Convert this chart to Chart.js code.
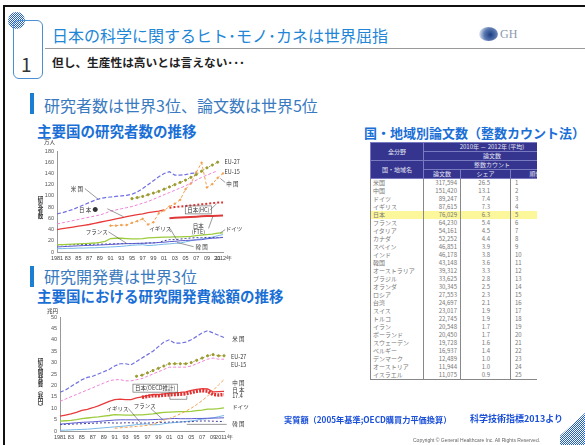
<!DOCTYPE html>
<html lang="ja">
<head>
<meta charset="utf-8">
<script src="https://cdn.jsdelivr.net/npm/chart.js@4.4.1/dist/chart.umd.min.js"></script>
<style>
  html, body { margin: 0; padding: 0; background: #fff; }
  body { width: 585px; height: 445px; position: relative; overflow: hidden;
         font-family: "Noto Sans CJK JP", "Noto Sans", sans-serif; }
  .abs { position: absolute; white-space: nowrap; line-height: 1; }
  .checker { background: repeating-conic-gradient(#1f5fc8 0 25%, #fff 0 50%) 0 0 / 2px 2px; }
  .blue-bold { color: #1a6fd6; font-weight: bold; }
  .vtitle { writing-mode: vertical-rl; font-size: 5.5px; font-weight: bold; color: #333; letter-spacing: 0.3px; }
  .unit { font-size: 5.5px; color: #333; }
  #tbl { position: absolute; left: 370px; top: 142px; width: 167px; height: 238px; overflow: hidden; }
  #tbl table { border-collapse: collapse; table-layout: fixed; width: 190px; font-size: 6px; line-height: 1; }
  #tbl th { background: #35358f; color: #e4e4f4; font-weight: normal; height: 8px; padding: 0;
            border: 1px solid #7a7ac0; text-align: center; }
  #tbl td { height: 8px; padding: 0 2px; color: #777; border-left: 1px solid #888; border-right: 1px solid #888; }
  #tbl td.num { text-align: right; padding-right: 3px; }
  #tbl tr.hl td { background: #fbf79a; }
  #tbl tbody tr:last-child td { border-bottom: 1px solid #888; }
</style>
</head>
<body>
<div class="abs" style="left:3px;top:5px;width:640px;height:500px;border-left:2px solid #111;border-top:2px solid #111;"></div>
<div class="abs checker" style="left:8px;top:12px;width:17px;height:17px;border-radius:50%;"></div>
<div class="abs" style="left:13px;top:20px;width:28px;height:57px;border:1px solid #4a90d0;border-radius:6px;"></div>
<div class="abs" style="left:21px;top:54px;font-size:19px;color:#333;">1</div>
<div class="abs" style="left:52px;top:27px;font-size:16px;color:#2286d6;">日本の科学に関するヒト･モノ･カネは世界屈指</div>
<div class="abs" style="left:45px;top:48px;width:560px;height:1px;background:#9a9a9a;"></div>
<div class="abs" style="left:52px;top:56px;font-size:11.7px;font-weight:bold;color:#222;">但し、生産性は高いとは言えない･･･</div>
<div class="abs" style="left:479px;top:27px;width:19px;height:14px;border-radius:50%;background:radial-gradient(circle at 60% 55%, #1c3c80 0, #5a78b0 45%, #d8e0ee 80%, #fff 100%);"></div>
<div class="abs" style="left:500px;top:28px;font-size:12px;color:#8a98b0;font-family:'Liberation Serif',serif;">GH</div>

<div class="abs" style="left:30px;top:93px;width:4px;height:21px;background:#1a7fd0;"></div>
<div class="abs" style="left:44px;top:97px;font-size:16px;color:#3a7ac0;">研究者数は世界3位、論文数は世界5位</div>
<div class="abs blue-bold" style="left:37px;top:124px;font-size:14.5px;">主要国の研究者数の推移</div>
<div class="abs blue-bold" style="left:364px;top:126px;font-size:13px;">国・地域別論文数（整数カウント法）</div>

<div class="abs" style="left:30px;top:266px;width:4px;height:21px;background:#1a7fd0;"></div>
<div class="abs" style="left:44px;top:268px;font-size:16px;color:#3a7ac0;">研究開発費は世界3位</div>
<div class="abs blue-bold" style="left:37px;top:289px;font-size:14.5px;">主要国における研究開発費総額の推移</div>

<canvas id="c1" class="abs" style="left:36px;top:138px;" width="240" height="128"></canvas>
<div class="abs unit" style="left:44px;top:140px;">万人</div>
<div class="abs vtitle" style="left:37px;top:196px;">研究者数</div>

<canvas id="c2" class="abs" style="left:36px;top:308px;" width="250" height="137"></canvas>
<div class="abs unit" style="left:47px;top:309px;">兆円</div>
<div class="abs vtitle" style="left:37px;top:358px;">研究開発費（兆円）</div>

<div id="tbl"></div>

<div class="abs" style="left:284px;top:415px;font-size:8.2px;font-weight:bold;color:#1a4fd8;">実質額（2005年基準;OECD購買力平価換算）</div>
<div class="abs" style="left:470px;top:414px;font-size:9px;font-weight:bold;color:#1a4fd8;">科学技術指標2013より</div>
<div class="abs" style="left:413px;top:438px;font-size:5px;color:#666;font-family:'Liberation Sans',sans-serif;">Copyright ©  General Healthcare Inc. All Rights Reserved.</div>
<div class="abs checker" style="left:560px;top:412px;width:26px;height:34px;clip-path:polygon(100% 0,100% 100%,0 100%,0 70%);"></div>

<script>
// ---- researchers (万人), 1981-2012 ----
const years1 = [1981, 1982, 1983, 1984, 1985, 1986, 1987, 1988, 1989, 1990, 1991, 1992, 1993, 1994, 1995, 1996,
                1997, 1998, 1999, 2000, 2001, 2002, 2003, 2004, 2005, 2006, 2007, 2008, 2009, 2010, 2011, 2012];
const yearTicks1 = ['1981', '', '83', '', '85', '', '87', '', '89', '', '91', '', '93', '', '95', '',
                    '97', '', '99', '', '01', '', '03', '', '05', '', '07', '', '09', '', '11', '2012年'];
const usRes    = [68, 70, 73, 76, 80, 84, 88, 92, 95, 97, 98, 99, 100, 101, 103, 107,
                  113, 120, 127, 134, 140, 143, 137, 137, 138, 140, 141, null, null, null, null, null];
const eu27Res  = [null, null, null, null, null, null, null, null, null, null, null, null, null, null, 95, 97,
                  99, 102, 105, 108, 112, 116, 120, 124, 128, 133, 138, 144, 150, 155, 160, null];
const eu15Res  = [50, 52, 54, 56, 58, 60, 62, 64, 66, 69, 73, 75, 77, 79, 81, 84,
                  87, 90, 94, 98, 102, 106, 110, 114, 118, 123, 128, 133, 137, 141, 145, null];
const chinaRes = [null, null, null, null, null, null, null, null, null, null, 47, 47, 48, 48, 52, 55,
                  59, 49, 53, 69, 74, 81, 86, 93, 112, 122, 142, 159, 115, 121, 132, 140];
const japanRes = [40, 41.5, 43, 44.5, 46, 47.5, 49, 51, 53, 55, 57, 59, 61, 63, 65, 66.5,
                  68, 70, 71.5, 73, 75, null, null, null, null, null, null, null, null, null, null, null];
const japanHC  = [null, null, null, null, null, null, null, null, null, null, null, null, null, null, null, null,
                  null, null, null, null, null, 79, 80, 81, 82, 83, 84, 85, 86, 87, 88, 88];
const japanFTE = [null, null, null, null, null, null, null, null, null, null, null, null, null, null, null, null,
                  null, null, null, null, null, 60, 61, 61.5, 62, 62.5, 63, 63.5, 64, 64, 64.5, 65];
const germanyRes = [13, 13, 13.5, 14, 14.5, 15, 15.5, 16, 17, 19, 24, 24.5, 24.5, 24, 23.5, 23.5,
                    24, 25, 25.5, 26, 26.5, 26.5, 27, 27, 27.5, 28, 29, 30, 31, 32, 33.5, 34];
const franceRes  = [9, 9.5, 10, 10.5, 11, 11.5, 11.8, 12, 12.5, 13, 13.5, 14, 14.5, 15, 15, 15.5,
                    15.5, 16, 16, 17, 17.5, 18.5, 19, 20, 20.5, 21, 21.5, 22, 23.5, 24.5, 25, 26];
const ukRes      = [13, 13, 13, 13, 13.5, 13.5, 13.5, 14, 14, 14, 14.5, 14.5, 15, 15, 15, 15,
                    15.5, 16, 16.5, 17, 20, 22, 22, 23, 24, 25, 25.5, 25.5, 26, 26, 26, 26];
const koreaRes   = [6, 6, 6.5, 6.5, 7, 7, 7.5, 7.5, 8, 8.5, 9, 9.5, 10, 11, 12, 12.5,
                    13, 11.5, 12, 13, 14, 14.5, 15.5, 16, 18, 20, 22, 23.5, 24.5, 26.5, 29, 31];

// ---- R&D expenditure (兆円), 1981-2011 ----
const years2 = [1981, 1982, 1983, 1984, 1985, 1986, 1987, 1988, 1989, 1990, 1991, 1992, 1993, 1994, 1995, 1996,
                1997, 1998, 1999, 2000, 2001, 2002, 2003, 2004, 2005, 2006, 2007, 2008, 2009, 2010, 2011];
const yearTicks2 = ['1981', '', '83', '', '85', '', '87', '', '89', '', '91', '', '93', '', '95', '',
                    '97', '', '99', '', '01', '', '03', '', '05', '', '07', '', '09', '', '2011年'];
const usRD    = [17, 18, 19.5, 21, 22.5, 23.5, 24, 25, 26, 27, 28.5, 29.5, 29.5, 29, 30.5, 32,
                 33.5, 35, 37, 39, 40, 38.5, 38.5, 39, 40, 41.5, 43, 44, 43, 42, 41];
const eu27RD  = [null, null, null, null, null, null, null, null, null, null, null, null, null, null, 24, 24.5,
                 25.5, 26.5, 27.5, 28.5, 29.5, 29.5, 29.5, 29.5, 30, 31, 32, 33, 33.5, 33, 33];
const eu15RD  = [13, 14, 15, 16, 17, 18, 19, 20, 21, 22, 22.5, 22.5, 22, 22, 22.5, 23,
                 24, 25, 26, 27, 28, 28, 28, 28, 28.5, 29.5, 30.5, 31.5, 32, 31.5, 31.5];
const japanRD = [6.5, 7, 7.5, 8.2, 9, 9.5, 10.2, 11, 12, 13, 13.8, 14, 13.8, 13.8, 14.5, 15,
                 15.5, 16, 16, 16.3, 16.6, 16.7, 16.9, 17.2, 17.8, 18.3, 18.6, 18.5, 17.2, 17.3, 17.4];
const japanOECD = [null, null, null, null, null, null, null, null, null, null, null, null, null, null, null, 14.8,
                   15.2, 15.5, 15.5, 15.7, 15.9, 16, 16.1, 16.3, 16.9, 17.4, 17.7, 17.5, 16, 15.8, 16];
const chinaRD = [null, null, null, null, null, null, null, null, null, null, 1.2, 1.4, 1.6, 1.8, 2, 2.2,
                 2.5, 2.9, 3.8, 4.8, 5.5, 6.4, 7.5, 8.7, 10, 11.6, 13.3, 15.3, 17.8, 20.2, 22.5];
const germanyRD = [4.3, 4.5, 4.7, 5, 5.4, 5.7, 6, 6.2, 6.5, 6.8, 7.2, 7.1, 7, 7, 7.1, 7.1,
                   7.3, 7.5, 7.9, 8.2, 8.3, 8.4, 8.5, 8.5, 8.6, 8.9, 9.2, 9.6, 9.6, 9.8, 10.1];
const franceRD  = [3, 3.2, 3.4, 3.6, 3.8, 3.9, 4, 4.2, 4.4, 4.6, 4.8, 4.9, 4.9, 4.9, 4.9, 4.9,
                   4.9, 5, 5.1, 5.2, 5.4, 5.5, 5.4, 5.4, 5.4, 5.5, 5.5, 5.6, 5.7, 5.7, 5.8];
const ukRD      = [2.8, 2.9, 3, 3.1, 3.2, 3.3, 3.4, 3.5, 3.6, 3.6, 3.5, 3.5, 3.6, 3.6, 3.5, 3.5,
                   3.5, 3.6, 3.8, 3.8, 3.9, 4, 4, 4, 4.1, 4.3, 4.4, 4.4, 4.3, 4.2, 4.2];
const koreaRD   = [0.3, 0.4, 0.5, 0.6, 0.7, 0.8, 1, 1.2, 1.4, 1.6, 1.8, 2, 2.2, 2.5, 2.8, 3,
                   3.1, 2.7, 2.8, 3.2, 3.5, 3.7, 3.9, 4.2, 4.4, 4.8, 5.2, 5.4, 5.7, 6.3, 6.8];

// ---- papers table (2010-2012 average) ----
const countries = ['米国', '中国', 'ドイツ', 'イギリス', '日本', 'フランス', 'イタリア', 'カナダ', 'スペイン', 'インド',
                   '韓国', 'オーストラリア', 'ブラジル', 'オランダ', 'ロシア', '台湾', 'スイス', 'トルコ', 'イラン',
                   'ポーランド', 'スウェーデン', 'ベルギー', 'デンマーク', 'オーストリア', 'イスラエル'];
const paperCounts = ['317,594', '151,420', '89,247', '87,615', '76,029', '64,230', '54,161', '52,252', '46,851', '46,178',
                     '43,148', '39,312', '33,625', '30,345', '27,553', '24,697', '23,017', '22,745', '20,548',
                     '20,450', '19,728', '16,937', '12,489', '11,944', '11,075'];
const paperShares = ['26.5', '13.1', '7.4', '7.3', '6.3', '5.4', '4.5', '4.4', '3.9', '3.8', '3.6', '3.3', '2.8',
                     '2.5', '2.3', '2.1', '1.9', '1.9', '1.7', '1.7', '1.6', '1.4', '1.0', '1.0', '0.9'];
const paperRanks = [1, 2, 3, 4, 5, 6, 7, 8, 9, 10, 11, 12, 13, 14, 15, 16, 17, 18, 19, 20, 21, 22, 23, 24, 25];

// build the table
let html = '<table><colgroup><col style="width:53px"><col style="width:37px"><col style="width:50px"><col style="width:50px"></colgroup>';
html += '<thead><tr><th rowspan="2">全分野</th><th colspan="3">2010年 － 2012年 (平均)</th></tr>';
html += '<tr><th colspan="3">論文数</th></tr>';
html += '<tr><th rowspan="2">国・地域名</th><th colspan="3">整数カウント</th></tr>';
html += '<tr><th>論文数</th><th>シェア</th><th>順位</th></tr></thead><tbody>';
countries.forEach((c, i) => {
    html += '<tr' + (c === '日本' ? ' class="hl"' : '') + '><td>' + c + '</td><td class="num">' + paperCounts[i] +
            '</td><td class="num" style="padding-right:20px">' + paperShares[i] + '</td><td style="padding-left:4px">' + paperRanks[i] + '</td></tr>';
});
html += '</tbody></table>';
document.getElementById('tbl').innerHTML = html;

// text labels with leader lines, placed in data coordinates
const lineLabels = {
    id: 'lineLabels',
    afterDatasetsDraw(chart, args, opts) {
        const { ctx, scales: { x, y } } = chart;
        const px = yr => x.getPixelForValue(yr - opts.startYear);
        ctx.save();
        ctx.font = '5.5px "Noto Sans CJK JP"';
        ctx.fillStyle = '#333';
        ctx.strokeStyle = '#555';
        ctx.lineWidth = 0.6;
        opts.items.forEach(it => {
            if (it.leader) {
                ctx.beginPath();
                it.leader.forEach(([a, b], k) => {
                    if (k) ctx.lineTo(px(a), y.getPixelForValue(b));
                    else ctx.moveTo(px(a), y.getPixelForValue(b));
                });
                ctx.stroke();
            }
            const lines = it.text.split('\n');
            ctx.textAlign = it.align || 'center';
            ctx.textBaseline = 'middle';
            const cx = px(it.x), cy = y.getPixelForValue(it.y);
            lines.forEach((t, k) => ctx.fillText(t, cx, cy + (k - (lines.length - 1) / 2) * 6));
            if (it.box) {
                const w = ctx.measureText(lines[0]).width + 4;
                ctx.strokeRect(cx - w / 2, cy - 4, w, 8);
            }
        });
        ctx.restore();
    }
};

function makeOptions(cfg) {
    return {
        responsive: false,
        animation: false,
        devicePixelRatio: 1,
        layout: { padding: { left: 0, top: cfg.top, right: cfg.right, bottom: 0 } },
        elements: { line: { tension: 0, borderWidth: 1 }, point: { radius: 0 } },
        plugins: { legend: { display: false }, tooltip: { enabled: false }, lineLabels: cfg.labels },
        scales: {
            x: {
                grid: { display: false, drawTicks: false },
                border: { color: '#999' },
                ticks: { autoSkip: false, maxRotation: 0, font: { size: 5.5 }, color: '#444', padding: 3,
                         callback: (v, i) => cfg.ticks[i] },
                afterFit: s => { s.height = cfg.xh; }
            },
            y: {
                min: 0, max: cfg.max,
                grid: { display: false, drawTicks: false },
                border: { color: '#999' },
                ticks: { stepSize: cfg.step, font: { size: 5.5 }, color: '#555', padding: 3 },
                afterFit: s => { s.width = cfg.yw; }
            }
        }
    };
}

const ds = (data, color, extra) => Object.assign({ data, borderColor: color, backgroundColor: color }, extra);

new Chart(document.getElementById('c1'), {
    type: 'line',
    data: {
        labels: years1,
        datasets: [
            ds(usRes, '#7070e0', { borderDash: [4, 2], borderWidth: 1.2 }),
            ds(eu27Res, '#9a9a30', { borderDash: [1.5, 2], pointRadius: 1.1 }),
            ds(eu15Res, '#f080d8', { borderDash: [3, 2] }),
            ds(chinaRes, '#f0a050', { borderDash: [3, 2], pointRadius: 0.8 }),
            ds(japanRes, '#e83a3a', { borderWidth: 1.3 }),
            ds(japanHC, '#e03030', { borderDash: [2, 2], borderWidth: 2 }),
            ds(japanFTE, '#e03838', { borderWidth: 2 }),
            ds(germanyRes, '#9ccc3c', { borderWidth: 1.3 }),
            ds(franceRes, '#5a5ad0'),
            ds(ukRes, '#40409a', { borderDash: [2, 2] }),
            ds(koreaRes, '#78b8e8')
        ]
    },
    options: makeOptions({
        top: 13, right: 53, xh: 14, yw: 21, max: 180, step: 20, ticks: yearTicks1,
        labels: {
            startYear: 1981,
            items: [
                { text: '米 国', x: 1984.7, y: 113, leader: [[1986.2, 113], [1988.7, 94]] },
                { text: '日 本 ●', x: 1986.9, y: 75, leader: [[1990.4, 77], [1993.4, 63]] },
                { text: 'EU-27', x: 2012.3, y: 161, align: 'left' },
                { text: 'EU-15', x: 2012.3, y: 143, align: 'left' },
                { text: '中 国', x: 2012.6, y: 122, align: 'left', leader: [[2011.5, 131], [2012.4, 124]] },
                { text: '日本(HC)', x: 2007.4, y: 75, box: true, leader: [[2009.6, 75], [2010.8, 86]] },
                { text: '日本\n(FTE)', x: 2007.4, y: 41, leader: [[2009.3, 42], [2010.1, 63]] },
                { text: 'ドイツ', x: 2012.5, y: 42, align: 'left', leader: [[2011.5, 34], [2012.4, 40]] },
                { text: 'フランス', x: 1988.4, y: 36, leader: [[1990.6, 36], [1994, 15.5]] },
                { text: 'イギリス', x: 2000.3, y: 42, leader: [[2002.1, 42], [2003.4, 21]] },
                { text: '韓 国', x: 2008, y: 9.5, leader: [[2006.5, 9.5], [2003.4, 17]] }
            ]
        }
    }),
    plugins: [lineLabels]
});

new Chart(document.getElementById('c2'), {
    type: 'line',
    data: {
        labels: years2,
        datasets: [
            ds(usRD, '#7070e0', { borderDash: [4, 2], borderWidth: 1.2 }),
            ds(eu27RD, '#9a9a30', { borderDash: [1.5, 2], pointRadius: 1.1 }),
            ds(eu15RD, '#f080d8', { borderDash: [3, 2] }),
            ds(japanOECD, '#e03030', { borderDash: [2, 1.2], borderWidth: 3.5 }),
            ds(japanRD, '#e83a3a', { borderWidth: 1.3 }),
            ds(chinaRD, '#f0a050', { borderDash: [3, 2] }),
            ds(germanyRD, '#9ccc3c', { borderWidth: 1.3 }),
            ds(franceRD, '#5a5ad0'),
            ds(ukRD, '#40409a', { borderDash: [2, 2] }),
            ds(koreaRD, '#78b8e8')
        ]
    },
    options: makeOptions({
        top: 9, right: 62, xh: 14, yw: 24, max: 50, step: 5, ticks: yearTicks2,
        labels: {
            startYear: 1981,
            items: [
                { text: '米 国', x: 2012.5, y: 40.3, align: 'left' },
                { text: 'EU-27', x: 2012.3, y: 32.5, align: 'left' },
                { text: 'EU-15', x: 2012.3, y: 29, align: 'left' },
                { text: '中 国', x: 2012.5, y: 21, align: 'left' },
                { text: '日 本', x: 2012.5, y: 18.2, align: 'left' },
                { text: '17.4', x: 2012.5, y: 15.4, align: 'left' },
                { text: '日本(OECD推計)', x: 1998.4, y: 18.8, box: true,
                  leader: [[2001.1, 17.1], [2001.1, 13.9], [2004.2, 13.9], [2004.2, 15.4]] },
                { text: 'ドイツ', x: 2012.5, y: 10.6, align: 'left' },
                { text: 'フランス', x: 1996.5, y: 10.9, leader: [[1997.6, 9.9], [1999.9, 4.8]] },
                { text: 'イギリス', x: 1991.5, y: 9.9, leader: [[1993.5, 9.9], [1995.6, 4]] },
                { text: '韓 国', x: 2012.5, y: 2.9, align: 'left', leader: [[2004.2, 2.9], [2011.5, 2.9]] }
            ]
        }
    }),
    plugins: [lineLabels]
});
</script>
</body>
</html>
